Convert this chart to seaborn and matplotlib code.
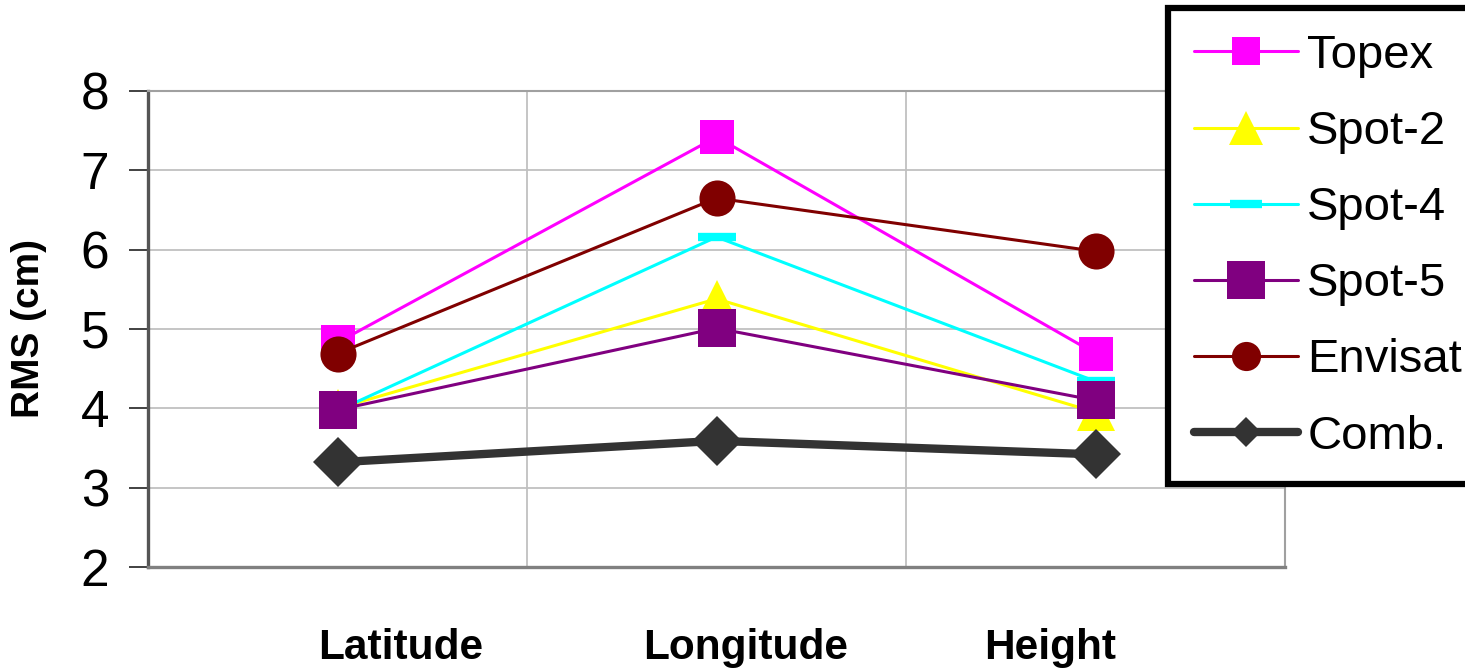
import numpy as np
import pandas as pd
import matplotlib
matplotlib.use("Agg")
import matplotlib.pyplot as plt
import seaborn as sns

# Values
categories = ["Latitude", "Longitude", "Height"]
topex = [4.83, 7.42, 4.69]
spot2 = [4.00, 5.38, 3.95]
spot4 = [3.97, 6.16, 4.34]
spot5 = [3.98, 5.01, 4.10]
envisat = [4.69, 6.65, 5.98]
comb = [3.32, 3.59, 3.42]
yticks = [2, 3, 4, 5, 6, 7, 8]

series = {
    "Topex": topex,
    "Spot-2": spot2,
    "Spot-4": spot4,
    "Spot-5": spot5,
    "Envisat": envisat,
    "Comb.": comb,
}

# Excel-like line/marker styling per series (leg_ms = marker size in legend)
styles = {
    "Topex":   dict(color="#FF00FF", marker="s", markersize=25, lw=2.2, leg_ms=20),
    "Spot-2":  dict(color="#FFFF00", marker="^", markersize=27, lw=2.2, leg_ms=24),
    "Spot-4":  dict(color="#00FFFF", marker="_", markersize=28, lw=2.2, mew=6, leg_ms=23),
    "Spot-5":  dict(color="#800080", marker="s", markersize=28, lw=2.2, leg_ms=28),
    "Envisat": dict(color="#800000", marker="o", markersize=26, lw=2.2, leg_ms=21),
    "Comb.":   dict(color="#333333", marker="D", markersize=25, lw=6, leg_ms=15),
}

df = pd.DataFrame(series, index=categories)

sns.set_theme(style="white")
plt.rcParams["font.family"] = ["Liberation Sans", "DejaVu Sans"]
plt.rcParams["text.color"] = "black"
plt.rcParams["xtick.color"] = "black"
plt.rcParams["ytick.color"] = "black"
plt.rcParams["axes.labelcolor"] = "black"

fig = plt.figure(figsize=(14.65, 6.69), dpi=100)
ax = fig.add_axes([148 / 1465, 1 - 567 / 669, 1137 / 1465, (567 - 91) / 669])

for name in df.columns:
    st = styles[name]
    sns.lineplot(x=df.index, y=df[name], ax=ax, label=name, sort=False,
                 color=st["color"], marker=st["marker"], markersize=st["markersize"],
                 linewidth=st["lw"], markeredgewidth=st.get("mew", 0),
                 markeredgecolor=st["color"])

ax.set_xlim(-0.5, 2.5)
ax.set_ylim(2, 8)
ax.set_yticks(yticks)
ax.set_yticklabels([str(v) for v in yticks], fontsize=37)

# the category labels in the original sit a bit off the category centres
label_shift = [0.166, 0.077, -0.119]
ax.set_xticks([i + s for i, s in enumerate(label_shift)])
ax.set_xticklabels(categories, fontsize=30.5, fontweight="bold")
ax.set_xticks([0.5, 1.5], minor=True)

ax.grid(True, axis="y", color="#c0c0c0", lw=1.3)
ax.grid(True, axis="x", which="minor", color="#c0c0c0", lw=1.3)
ax.grid(False, axis="x", which="major")

ax.tick_params(axis="y", direction="out", length=14, width=1.3, color="#333333", pad=14, left=True)
ax.tick_params(axis="x", which="both", length=0, pad=44)

ax.set_xlabel("")
ax.set_ylabel("RMS (cm)", fontsize=28, fontweight="bold")
ax.yaxis.set_label_coords(-0.089, 0.5)

for side in ["left", "bottom"]:
    ax.spines[side].set_color("#808080")
    ax.spines[side].set_linewidth(2.4)
ax.spines["left"].set_color("#555555")
for side in ["top", "right"]:
    ax.spines[side].set_color("#a0a0a0")
    ax.spines[side].set_linewidth(1.5)

leg = ax.legend(loc="upper left", bbox_to_anchor=(1168 / 1465, 1 - 8 / 669),
                bbox_transform=fig.transFigure, fontsize=34, frameon=True,
                fancybox=False, handlelength=2.2, handletextpad=0.2,
                labelspacing=0.68, borderpad=0.55, borderaxespad=0)
leg.get_frame().set_edgecolor("black")
leg.get_frame().set_linewidth(4.5)
leg.get_frame().set_alpha(1)
for h, name in zip(leg.legend_handles, df.columns):
    h.set_markersize(styles[name]["leg_ms"])

fig.savefig("out.png", dpi=100)
